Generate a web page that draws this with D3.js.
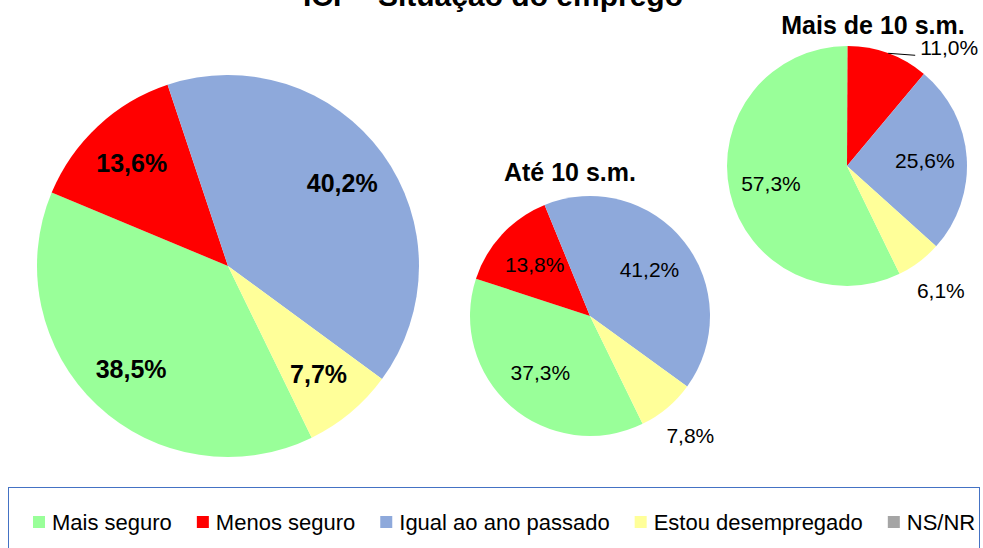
<!DOCTYPE html>
<html>
<head>
<meta charset="utf-8">
<script src="https://cdn.jsdelivr.net/npm/d3@7"></script>
<style>
  body { margin: 0; background: #fff; }
  svg { display: block; font-family: "Liberation Sans", Arial, sans-serif; }
</style>
</head>
<body>
<div id="chart"></div>
<script>
// categories and values
const categories = ["Mais seguro", "Menos seguro", "Igual ao ano passado", "Estou desempregado", "NS/NR"];
const colors = ["#99FF99", "#FF0000", "#8EA9DB", "#FFFF99", "#A5A5A5"];
const totalValues = [38.5, 13.6, 40.2, 7.7, 0];
const ate10Values = [37.3, 13.8, 41.2, 7.8, 0];
const mais10Values = [57.3, 11.0, 25.6, 6.1, 0];

const chartTitle = "ICF - Situação do emprego";
const subTitles = ["", "Até 10 s.m.", "Mais de 10 s.m."];

let width = 983, height = 548;

let svg = d3.select("#chart").append("svg")
    .attr("width", width)
    .attr("height", height);

//layout of the three pies
let pies = [
    { values: totalValues, cx: 228, cy: 266, r: 191, labelRatio: 0.74, bold: true, size: 25, outsideBelow: 0 },
    { values: ate10Values, cx: 590, cy: 316, r: 120, labelRatio: 0.63, bold: false, size: 21, outsideBelow: 10 },
    { values: mais10Values, cx: 847, cy: 166, r: 120, labelRatio: 0.65, bold: false, size: 21, outsideBelow: 12 }
];

let startAngle = 154 * Math.PI / 180;
let pie = d3.pie().sort(null)
    .startAngle(startAngle)
    .endAngle(startAngle + 2 * Math.PI);

let fmt = v => d3.format(".1f")(v).replace(".", ",") + "%";
let color = d3.scaleOrdinal().domain(categories).range(colors);

//title, cut by the top of the picture like in the original
svg.append("text")
    .attr("x", 493)
    .attr("y", 6)
    .attr("text-anchor", "middle")
    .attr("font-size", "30px")
    .attr("font-weight", "bold")
    .text(chartTitle);

pies.forEach(function (p, pi) {
    let g = svg.append("g").attr("transform", "translate(" + p.cx + "," + p.cy + ")");
    let arcs = pie(p.values).map((a, i) => Object.assign(a, { cat: categories[i] }));

    let arc = d3.arc().innerRadius(0).outerRadius(p.r);
    let labelArc = d3.arc().innerRadius(p.r * p.labelRatio).outerRadius(p.r * p.labelRatio);
    let outerArc = d3.arc().innerRadius(p.r * 1.3).outerRadius(p.r * 1.3);
    let edgeArc = d3.arc().innerRadius(p.r).outerRadius(p.r);

    g.selectAll("path")
        .data(arcs.filter(a => a.value > 0))
        .enter()
        .append("path")
        .attr("d", arc)
        .attr("fill", d => color(d.cat));

    arcs.filter(a => a.value > 0).forEach(function (a) {
        let outside = a.value < p.outsideBelow;
        let t = g.append("text")
            .attr("font-size", p.size + "px")
            .attr("font-weight", p.bold ? "bold" : "normal")
            .attr("fill", "#000")
            .text(fmt(a.value));
        let mid = (a.startAngle + a.endAngle) / 2;
        //label too close to the subtitle: push it right with a leader line
        if (outside && Math.sin(mid) > 0 && Math.cos(mid) > 0.8) {
            let e = edgeArc.centroid(a);
            let end = [e[0] + 27, e[1] + 2];
            g.append("line")
                .attr("x1", e[0]).attr("y1", e[1])
                .attr("x2", end[0]).attr("y2", end[1])
                .attr("stroke", "#000").attr("stroke-width", 1);
            t.attr("x", end[0] + 5).attr("y", end[1])
                .attr("text-anchor", "start");
        } else {
            let c = outside ? outerArc.centroid(a) : labelArc.centroid(a);
            t.attr("x", c[0]).attr("y", c[1])
                .attr("text-anchor", "middle")
                .attr("dominant-baseline", "central");
        }
    });

    if (subTitles[pi]) {
        svg.append("text")
            .attr("x", pi == 1 ? 570 : 873)
            .attr("y", pi == 1 ? 181 : 34)
            .attr("text-anchor", "middle")
            .attr("font-size", "25px")
            .attr("font-weight", "bold")
            .text(subTitles[pi]);
    }
});

//legend box
svg.append("rect")
    .attr("x", 8.5)
    .attr("y", 487.5)
    .attr("width", 971)
    .attr("height", 80)
    .attr("fill", "none")
    .attr("stroke", "#4472C4")
    .attr("stroke-width", 1);

let lx = 33;
categories.forEach(function (c, i) {
    svg.append("rect")
        .attr("x", lx)
        .attr("y", 516)
        .attr("width", 12)
        .attr("height", 12)
        .attr("fill", colors[i]);
    let t = svg.append("text")
        .attr("x", lx + 19)
        .attr("y", 530)
        .attr("font-size", "22px")
        .text(c);
    lx = lx + 19 + t.node().getComputedTextLength() + 25;
});
</script>
</body>
</html>
